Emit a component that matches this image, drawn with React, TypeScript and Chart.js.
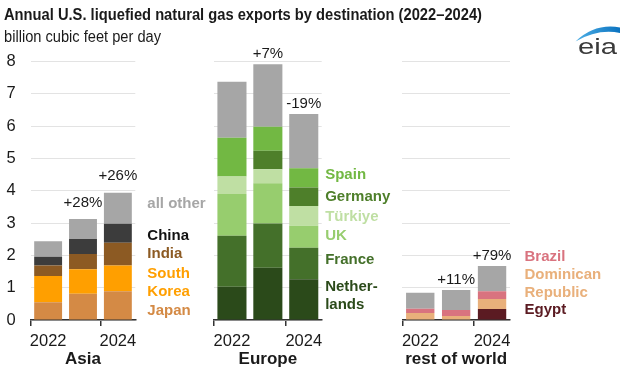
import React, { useEffect, useRef } from 'react';
import { Chart, registerables } from 'chart.js';

Chart.register(...registerables);

// ---------------- data ----------------
const YEARS = ['2022', '2023', '2024'];
const YEAR_TICK_LABELS = ['2022', '', '2024'];
const Y_MIN = 0;
const Y_MAX = 8;

const TITLE = 'Annual U.S. liquefied natural gas exports by destination (2022\u20132024)';
const SUBTITLE = 'billion cubic feet per day';
const LOGO_TEXT = 'eia';

const ASIA_JAPAN = [0.55, 0.81, 0.89];
const ASIA_SOUTH_KOREA = [0.81, 0.76, 0.8];
const ASIA_INDIA = [0.33, 0.47, 0.7];
const ASIA_CHINA = [0.27, 0.47, 0.59];
const ASIA_OTHER = [0.48, 0.62, 0.96];
const ASIA_CHANGE = ['', '+28%', '+26%'];

const EU_NETHERLANDS = [1.03, 1.62, 1.26];
const EU_FRANCE = [1.58, 1.37, 0.98];
const EU_UK = [1.29, 1.24, 0.68];
const EU_TURKIYE = [0.54, 0.44, 0.61];
const EU_GERMANY = [0, 0.57, 0.57];
const EU_SPAIN = [1.2, 0.74, 0.6];
const EU_OTHER = [1.74, 1.94, 1.68];
const EU_CHANGE = ['', '+7%', '-19%'];

const ROW_EGYPT = [0, 0, 0.34];
const ROW_DOMINICAN = [0.22, 0.12, 0.31];
const ROW_BRAZIL = [0.13, 0.19, 0.24];
const ROW_OTHER = [0.49, 0.62, 0.78];
const ROW_CHANGE = ['', '+11%', '+79%'];

// ---------------- styles / layout ----------------
const FONT = '"Liberation Sans", Arial, Helvetica, sans-serif';
const TEXT = '#1a1a1a';
const GREY = '#a6a6a6';
const PLOT_TOP = 61.6;
const PAD_BOTTOM = 15;
const XAXIS_HEIGHT = 50;

type Series = {
  name: string;
  data: number[];
  color: string;
  lines?: string[];
  labelColor?: string;
  nudge?: number;
};

type Panel = {
  key: string;
  title: string;
  padLeft: number;
  padRight: number;
  yWidth: number;
  showY: boolean;
  barPct: number;
  labelGap: number;
  changeGap: number;
  change: string[];
  series: Series[];
};

const PANELS: Panel[] = [
  {
    key: 'asia',
    title: 'Asia',
    padLeft: 0,
    padRight: 484.7,
    yWidth: 30.7,
    showY: true,
    barPct: 0.8,
    labelGap: 12,
    changeGap: 16.5,
    change: ASIA_CHANGE,
    series: [
      { name: 'Japan', data: ASIA_JAPAN, color: '#d48a45', lines: ['Japan'], labelColor: '#d48a45', nudge: 5 },
      { name: 'South Korea', data: ASIA_SOUTH_KOREA, color: '#ff9f00', lines: ['South', 'Korea'], labelColor: '#ff9f00', nudge: 5 },
      { name: 'India', data: ASIA_INDIA, color: '#8c5a23', lines: ['India'], labelColor: '#8c5a23', nudge: 0 },
      { name: 'China', data: ASIA_CHINA, color: '#3c3c3c', lines: ['China'], labelColor: '#111111', nudge: 2.5 },
      { name: 'all other', data: ASIA_OTHER, color: GREY, lines: ['all other'], labelColor: GREY, nudge: -4.5 },
    ],
  },
  {
    key: 'europe',
    title: 'Europe',
    padLeft: 214,
    padRight: 298.3,
    yWidth: 0,
    showY: false,
    barPct: 0.81,
    labelGap: 3.5,
    changeGap: 10.5,
    change: EU_CHANGE,
    series: [
      { name: 'Netherlands', data: EU_NETHERLANDS, color: '#2b4a1a', lines: ['Nether-', 'lands'], labelColor: '#2b4a1a', nudge: -3.5 },
      { name: 'France', data: EU_FRANCE, color: '#44702a', lines: ['France'], labelColor: '#44702a', nudge: -4 },
      { name: 'UK', data: EU_UK, color: '#97cd6e', lines: ['UK'], labelColor: '#97cd6e', nudge: -0.7 },
      { name: 'T\u00fcrkiye', data: EU_TURKIYE, color: '#bfdfa3', lines: ['T\u00fcrkiye'], labelColor: '#bfdfa3', nudge: 0.9 },
      { name: 'Germany', data: EU_GERMANY, color: '#4e7f2a', lines: ['Germany'], labelColor: '#4e7f2a', nudge: 0 },
      { name: 'Spain', data: EU_SPAIN, color: '#72b843', lines: ['Spain'], labelColor: '#72b843', nudge: -2.9 },
      { name: 'all other', data: EU_OTHER, color: GREY },
    ],
  },
  {
    key: 'row',
    title: 'rest of world',
    padLeft: 402.3,
    padRight: 110,
    yWidth: 0,
    showY: false,
    barPct: 0.79,
    labelGap: 14.5,
    changeGap: 10.5,
    change: ROW_CHANGE,
    series: [
      { name: 'Egypt', data: ROW_EGYPT, color: '#5b1b22', lines: ['Egypt'], labelColor: '#5b1b22', nudge: -4.5 },
      { name: 'Dominican Republic', data: ROW_DOMINICAN, color: '#e9b07b', lines: ['Dominican', 'Republic'], labelColor: '#e9b07b', nudge: -19.8 },
      { name: 'Brazil', data: ROW_BRAZIL, color: '#d9737f', lines: ['Brazil'], labelColor: '#d9737f', nudge: -38.4 },
      { name: 'all other', data: ROW_OTHER, color: GREY },
    ],
  },
];

function fitText(ctx: CanvasRenderingContext2D, text: string, x: number, y: number, width: number) {
  const w = ctx.measureText(text).width;
  ctx.save();
  ctx.translate(x, y);
  ctx.scale(width / w, 1);
  ctx.fillText(text, 0, 0);
  ctx.restore();
}

const headerPlugin = {
  id: 'header',
  afterDraw(chart: any) {
    const ctx: CanvasRenderingContext2D = chart.ctx;
    ctx.save();
    ctx.fillStyle = TEXT;
    ctx.textAlign = 'left';
    ctx.textBaseline = 'middle';
    ctx.font = `bold 17px ${FONT}`;
    fitText(ctx, TITLE, 4, 15.5, 478);
    ctx.font = `16px ${FONT}`;
    fitText(ctx, SUBTITLE, 4, 37.5, 157);

    // logo swoosh
    const grad = ctx.createLinearGradient(575, 0, 620, 0);
    grad.addColorStop(0, '#4fb0e6');
    grad.addColorStop(1, '#0b73c0');
    ctx.fillStyle = grad;
    ctx.beginPath();
    ctx.moveTo(575.5, 41.5);
    ctx.quadraticCurveTo(595, 23, 620, 27.5);
    ctx.lineTo(620, 33);
    ctx.quadraticCurveTo(598, 28.5, 575.5, 41.5);
    ctx.closePath();
    ctx.fill();
    ctx.fillStyle = '#3a3a3a';
    ctx.textBaseline = 'alphabetic';
    ctx.font = `22px ${FONT}`;
    fitText(ctx, LOGO_TEXT, 578, 53.5, 39);
    ctx.restore();
  },
};

function annotations(panel: Panel) {
  return {
    id: 'annot_' + panel.key,
    afterDatasetsDraw(chart: any) {
      const ctx: CanvasRenderingContext2D = chart.ctx;
      const n = chart.data.datasets.length;
      const topMeta = chart.getDatasetMeta(n - 1);
      ctx.save();
      ctx.fillStyle = TEXT;
      ctx.textAlign = 'center';
      ctx.textBaseline = 'middle';
      ctx.font = `15px ${FONT}`;
      panel.change.forEach((t, i) => {
        if (!t) return;
        const el = topMeta.data[i];
        ctx.fillText(t, el.x, el.y - panel.changeGap);
      });
      ctx.font = `bold 15px ${FONT}`;
      ctx.textAlign = 'left';
      const last = YEARS.length - 1;
      const x = chart.chartArea.right + panel.labelGap;
      panel.series.forEach((s, di) => {
        if (!s.lines) return;
        const el = chart.getDatasetMeta(di).data[last];
        const mid = (el.y + el.base) / 2 + (s.nudge || 0);
        ctx.fillStyle = s.labelColor || TEXT;
        s.lines.forEach((line, k) => {
          ctx.fillText(line, x, mid + (k - (s.lines!.length - 1) / 2) * 18);
        });
      });
      ctx.restore();
    },
  };
}

function buildConfig(panel: Panel, withHeader: boolean): any {
  return {
    type: 'bar',
    data: {
      labels: YEARS,
      datasets: panel.series.map((s) => ({
        label: s.name,
        data: s.data,
        backgroundColor: s.color,
        borderWidth: 0,
        barPercentage: panel.barPct,
        categoryPercentage: 1,
        stack: 'total',
      })),
    },
    options: {
      animation: false,
      responsive: false,
      devicePixelRatio: 1,
      layout: {
        padding: { left: panel.padLeft, right: panel.padRight, top: PLOT_TOP, bottom: PAD_BOTTOM },
      },
      plugins: {
        legend: { display: false },
        tooltip: { enabled: false },
        title: { display: false },
      },
      scales: {
        x: {
          stacked: true,
          offset: true,
          grid: {
            display: true,
            drawOnChartArea: false,
            drawTicks: true,
            tickLength: 6,
            lineWidth: 1.5,
            color: (c: any) => (c.index === 0 || c.index === 2 ? '#333333' : 'rgba(0,0,0,0)'),
          },
          border: { display: true, color: '#333333', width: 1.5 },
          ticks: {
            autoSkip: false,
            maxRotation: 0,
            padding: 6,
            color: TEXT,
            font: { family: FONT, size: 16.5 },
            callback: (_v: any, i: number) => YEAR_TICK_LABELS[i],
          },
          title: {
            display: true,
            text: panel.title,
            color: TEXT,
            font: { family: FONT, size: 17, weight: 'bold' },
            padding: { top: 0, bottom: 0 },
          },
          afterFit: (s: any) => {
            s.height = XAXIS_HEIGHT;
          },
        },
        y: {
          stacked: true,
          min: Y_MIN,
          max: Y_MAX,
          grid: { color: '#e3e3e3', lineWidth: 1, drawTicks: false },
          border: { display: false },
          ticks: {
            display: panel.showY,
            stepSize: 1,
            padding: 15,
            color: TEXT,
            font: { family: FONT, size: 16.5 },
          },
          afterFit: (s: any) => {
            s.width = panel.yWidth;
          },
        },
      },
    },
    plugins: withHeader ? [annotations(panel), headerPlugin] : [annotations(panel)],
  };
}

export default function App() {
  const refs = useRef<(HTMLCanvasElement | null)[]>([]);

  useEffect(() => {
    document.body.style.margin = '0';
    const charts = PANELS.map((p, i) => new Chart(refs.current[i] as HTMLCanvasElement, buildConfig(p, i === 0)));
    return () => charts.forEach((c) => c.destroy());
  }, []);

  return (
    <div style={{ position: 'relative', width: 620, height: 385, background: '#ffffff' }}>
      {PANELS.map((p, i) => (
        <canvas
          key={p.key}
          ref={(el) => {
            refs.current[i] = el;
          }}
          width={620}
          height={385}
          style={{ position: 'absolute', left: 0, top: 0, display: 'block' }}
        />
      ))}
    </div>
  );
}
